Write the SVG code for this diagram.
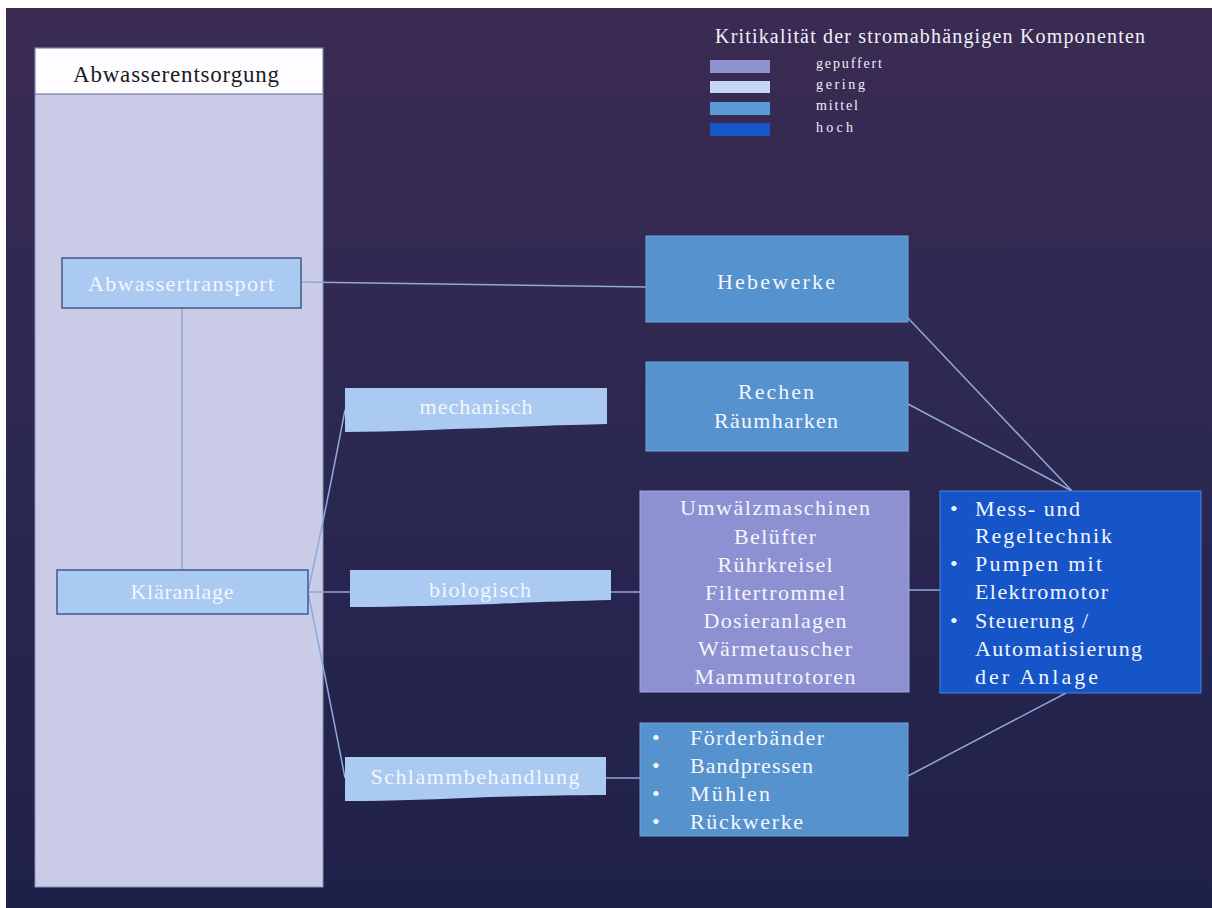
<svg xmlns="http://www.w3.org/2000/svg" width="1212" height="908" viewBox="0 0 1212 908">
  <defs>
    <linearGradient id="bg" x1="0" y1="0" x2="0" y2="1">
      <stop offset="0" stop-color="#3b2b52"/>
      <stop offset="0.5" stop-color="#2b2852"/>
      <stop offset="1" stop-color="#1f2049"/>
    </linearGradient>
    <style>
      text { font-family: "Liberation Serif", "DejaVu Serif", serif; }
      .lt { fill: #f3f6ff; font-size: 22px; }
      .mid { text-anchor: middle; }
      .cat { fill: #aacaf2; stroke: #3f5a86; stroke-width: 1.5; }
      .sub { fill: #aacaf2; }
      .med { fill: #5692ce; stroke: #6ea3da; stroke-width: 1; }
      .buf { fill: #8d90d1; stroke: #a3a6dc; stroke-width: 1; }
      .high { fill: #1655c8; stroke: #4a82dc; stroke-width: 1; }
      .conn { fill: none; stroke: #8ea9d8; stroke-width: 1.5; }
      .leg { fill: #f0f0f8; font-size: 14px; }
    </style>
  </defs>

  <!-- page -->
  <rect x="0" y="0" width="1212" height="908" fill="#ffffff"/>
  <rect x="6" y="8" width="1206" height="900" fill="url(#bg)"/>

  <!-- legend -->
  <g id="legend">
    <text x="715" y="43" fill="#f0f0f8" font-size="20" textLength="430">Kritikalität der stromabhängigen Komponenten</text>
    <rect x="710" y="60" width="60" height="13" fill="#8e92d0"/>
    <rect x="710" y="81" width="60" height="12" fill="#c7d6f2"/>
    <rect x="710" y="102" width="60" height="13" fill="#5a9ad6"/>
    <rect x="710" y="123" width="60" height="13" fill="#1656c8"/>
    <text class="leg" x="816" y="68" textLength="66">gepuffert</text>
    <text class="leg" x="816" y="89" textLength="49">gering</text>
    <text class="leg" x="816" y="110" textLength="42">mittel</text>
    <text class="leg" x="816" y="132" textLength="37">hoch</text>
  </g>

  <!-- left column -->
  <g id="abwasserentsorgung">
    <rect x="35" y="48" width="288" height="839" fill="#c9cbe7" stroke="#8a92bb" stroke-width="1"/>
    <rect x="35" y="48" width="288" height="46" fill="#fdfdff" stroke="#5a6c98" stroke-width="1"/>
    <text class="mid" x="176" y="82" fill="#1b1b1b" font-size="23" textLength="206">Abwasserentsorgung</text>
  </g>

  <!-- connectors -->
  <g id="connectors">
    <path class="conn" d="M301,282 L646,287"/>
    <path class="conn" d="M182,308 L182,570"/>
    <path class="conn" d="M308,592 Q328,500 345,410"/>
    <path class="conn" d="M308,592 L350,592"/>
    <path class="conn" d="M308,592 Q328,690 345,778"/>
    <path class="conn" d="M611,592 L640,592"/>
    <path class="conn" d="M606,778 L640,778"/>
    <path class="conn" d="M909,590 L940,590"/>
    <path class="conn" d="M908,318 L1072,491"/>
    <path class="conn" d="M908,404 L1072,491"/>
    <path class="conn" d="M908,776 L1066,693"/>
  </g>

  <g id="abwassertransport">
    <rect class="cat" x="62" y="258" width="239" height="50"/>
    <text class="lt mid" x="181" y="291" textLength="186">Abwassertransport</text>
  </g>

  <g id="klaeranlage">
    <rect class="cat" x="57" y="570" width="251" height="44"/>
    <text class="lt mid" x="182" y="599" textLength="103">Kläranlage</text>
  </g>

  <g id="mechanisch">
    <path class="sub" d="M345,388 H607 V424 C570,425 530,426 490,428 C440,429 395,432 345,432 Z"/>
    <text class="lt mid" x="476" y="414" textLength="113">mechanisch</text>
  </g>

  <g id="biologisch">
    <path class="sub" d="M350,570 H611 V600 C575,601 535,602 495,604 C450,605 400,607 350,607 Z"/>
    <text class="lt mid" x="480" y="597" textLength="102">biologisch</text>
  </g>

  <g id="schlammbehandlung">
    <path class="sub" d="M345,757 H606 V795 C570,795 530,796 490,797 C440,799 395,801 345,801 Z"/>
    <text class="lt mid" x="475" y="784" textLength="209">Schlammbehandlung</text>
  </g>

  <g id="hebewerke">
    <rect class="med" x="646" y="236" width="262" height="86"/>
    <text class="lt mid" x="776" y="289" textLength="118">Hebewerke</text>
  </g>

  <g id="rechen">
    <rect class="med" x="646" y="362" width="262" height="89"/>
    <text class="lt mid" x="776" y="399" textLength="76">Rechen</text>
    <text class="lt mid" x="776" y="428" textLength="124">Räumharken</text>
  </g>

  <g id="biologie-aggregate">
    <rect class="buf" x="640" y="491" width="269" height="201"/>
    <g class="lt mid">
      <text x="775" y="515" textLength="190">Umwälzmaschinen</text>
      <text x="775" y="544" textLength="82">Belüfter</text>
      <text x="775" y="572" textLength="115">Rührkreisel</text>
      <text x="775" y="600" textLength="140">Filtertrommel</text>
      <text x="775" y="628" textLength="143">Dosieranlagen</text>
      <text x="775" y="656" textLength="154">Wärmetauscher</text>
      <text x="775" y="684" textLength="161">Mammutrotoren</text>
    </g>
  </g>

  <g id="schlamm-aggregate">
    <rect class="med" x="640" y="723" width="268" height="113"/>
    <g class="lt">
      <text x="652" y="745">•</text>
      <text x="652" y="773">•</text>
      <text x="652" y="801">•</text>
      <text x="652" y="829">•</text>
      <text x="690" y="745" textLength="134">Förderbänder</text>
      <text x="690" y="773" textLength="123">Bandpressen</text>
      <text x="690" y="801" textLength="80">Mühlen</text>
      <text x="690" y="829" textLength="113">Rückwerke</text>
    </g>
  </g>

  <g id="gemeinsame-komponenten">
    <rect class="high" x="940" y="491" width="261" height="202"/>
    <g class="lt">
      <text x="950" y="516">•</text>
      <text x="950" y="571">•</text>
      <text x="950" y="628">•</text>
      <text x="975" y="516" textLength="105">Mess- und</text>
      <text x="975" y="543" textLength="137">Regeltechnik</text>
      <text x="975" y="571" textLength="127">Pumpen mit</text>
      <text x="975" y="599" textLength="133">Elektromotor</text>
      <text x="975" y="628" textLength="113">Steuerung /</text>
      <text x="975" y="656" textLength="167">Automatisierung</text>
      <text x="975" y="684" textLength="123">der Anlage</text>
    </g>
  </g>
</svg>
